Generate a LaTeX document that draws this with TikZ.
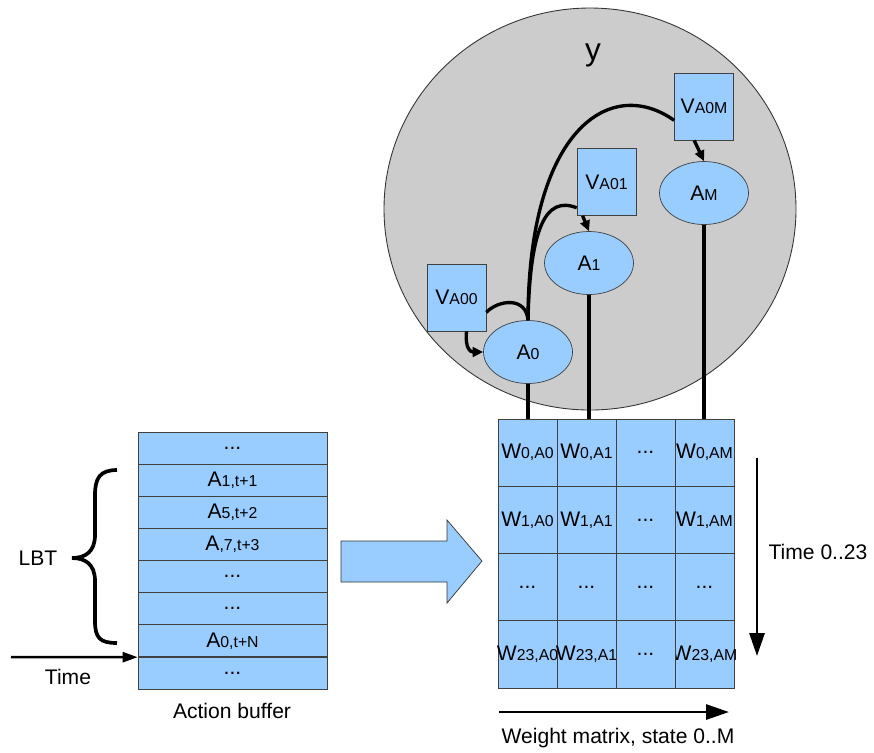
\documentclass[tikz,border=0pt]{standalone}
\usepackage{fontspec}
\setmainfont{Liberation Sans}
\usetikzlibrary{arrows.meta,shapes.geometric,calc}
\definecolor{cellblue}{HTML}{99CCFF}
\definecolor{ygray}{HTML}{CCCCCC}
\newcommand{\subtxt}[1]{{\fontsize{9}{10}\selectfont #1}}
\newcommand{\skipdots}{...}

\begin{document}
\begin{tikzpicture}[x=0.02cm,y=-0.02cm,every node/.style={font=\fontsize{12}{14}\selectfont},box/.style={draw=black!75,fill=cellblue,inner sep=0pt,minimum width=1.18cm,minimum height=1.34cm},oval/.style={ellipse,draw=black!75,fill=cellblue,inner sep=0pt,minimum width=1.78cm,minimum height=1.26cm},bufrow/.style={draw=black!75,fill=cellblue,inner sep=0pt,minimum width=3.78cm,minimum height=0.642cm},cell/.style={draw=black!75,fill=cellblue,inner sep=0pt,minimum width=1.18cm,minimum height=1.345cm},conn/.style={line width=1.9pt},stem/.style={line width=2.1pt},a/.style={conn,-{Triangle[length=6pt,width=5.5pt]}},axis/.style={line width=1.6pt,-{Triangle[length=13pt,width=8.5pt]}}]
\useasboundingbox (0,0) rectangle (874,752);
\draw[fill=ygray,draw=black!80,line width=0.5pt] (590,209) ellipse [x radius=206,y radius=201];
\node[font=\fontsize{18}{20}\selectfont] (ylbl) at (593,55) {y};
\node[box] (VA00) at (456.5,297.5) {V\subtxt{A00}};
\node[box] (VA01) at (606.5,182) {V\subtxt{A01}};
\node[box] (VA0M) at (704,106.5) {V\subtxt{A0M}};
\node[oval] (A0) at (528,352) {A\subtxt{0}};
\node[oval] (A1) at (589,263) {A\subtxt{1}};
\node[oval] (AM) at (704,193) {A\subtxt{M}};
\draw[conn] ($(VA00.south east)+(0,-19)$) .. controls (498,300) and (526,296) .. (A0.north);
\draw[a] ($(VA00.south)+(10,0)$) .. controls (465,348) and (470,352) .. (A0.west);
\draw[conn] (A0.north) .. controls (530,230) and (545,195) .. ($(VA01.south west)+(0,-8)$);
\draw[a] ($(VA01.south west)+(6,0)$) -- (A1.north);
\draw[conn] (A0.north) .. controls (528,130) and (610,75) .. ($(VA0M.south west)+(0,-20)$);
\draw[a] ($(VA0M.south west)+(20,0)$) -- (AM.north);

\foreach \t [count=\i] in {\skipdots,{A\subtxt{1,t+1}},{A\subtxt{5,t+2}},{A\subtxt{,7,t+3}},\skipdots,\skipdots,{A\subtxt{0,t+N}},\skipdots}
  \node[bufrow] (buf\i) at (232.5,415.9+32.125*\i) {\t};
\node (ablbl) at (232,711) {Action buffer};
\node (lbt) at (38,558) {LBT};
\draw[stem] (117,470) .. controls (100,470) and (95,478) .. (95,495) -- (95,535) .. controls (95,552) and (85,558) .. (72,558) .. controls (85,558) and (95,564) .. (95,581) -- (95,621) .. controls (95,638) and (100,643) .. (117,643);
\coordinate (tin) at (11,657);
\draw[line width=1.4pt,-{Triangle[length=8.5pt,width=5.7pt]}] (tin) -- (buf7.south west);
\node (tlabel) at (68,677) {Time};

\draw[draw=black!80,fill=cellblue] (341,541) -- (447,541) -- (447,520) -- (482,561) -- (447,603) -- (447,582) -- (341,582) -- cycle;

\foreach \ri/\rn in {1/0,2/1,4/23} \foreach \ci/\cn in {1/A0,2/A1,4/AM}
  \node[cell] (c\ri\ci) at (468.5+59*\ci,385.4+67.25*\ri) {\makebox[0pt]{W\subtxt{\rn,\cn}}};
\foreach \ri/\ci in {1/3,2/3,3/1,3/2,3/3,3/4,4/3}
  \node[cell] (c\ri\ci) at (468.5+59*\ci,385.4+67.25*\ri) {\skipdots};
\draw[stem] (A0.south) -- (A0.south |- c11.north);
\draw[stem] (A1.south) -- (A1.south |- c12.north);
\draw[stem] (AM.south) -- (AM.south |- c14.north);

\coordinate (tTop) at (757,458); \coordinate (tEnd) at (757,656);
\draw[axis] (tTop) -- (tEnd);
\node (tlbl) at (818,552) {Time 0..23};
\coordinate (wStart) at (499,712); \coordinate (wEnd) at (729,712);
\draw[axis] (wStart) -- (wEnd);
\node (wlbl) at (618,738) {Weight matrix, state 0..M};
\end{tikzpicture}
\end{document}
